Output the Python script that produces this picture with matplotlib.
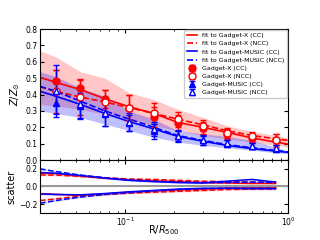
import numpy as np
import matplotlib
matplotlib.use("Agg")
import matplotlib.pyplot as plt

# radial bins (R/R500)
r_pts = [0.0375, 0.053, 0.075, 0.106, 0.15, 0.21, 0.30, 0.42, 0.60, 0.84]

# Gadget-X
gx_cc = [0.485, 0.44, 0.375, 0.32, 0.265, 0.225, 0.195, 0.16, 0.135, 0.12]
gx_cc_err = [0.065, 0.05, 0.055, 0.075, 0.06, 0.05, 0.035, 0.03, 0.025, 0.04]
gx_ncc = [0.42, 0.385, 0.355, 0.32, 0.285, 0.25, 0.21, 0.165, 0.145, 0.125]
gx_ncc_err = [0.13, 0.11, 0.075, 0.08, 0.065, 0.045, 0.035, 0.03, 0.025, 0.035]

# Gadget-MUSIC
gm_cc = [0.35, 0.33, 0.28, 0.225, 0.175, 0.145, 0.12, 0.10, 0.085, 0.07]
gm_cc_err = [0.07, 0.08, 0.07, 0.05, 0.045, 0.035, 0.03, 0.02, 0.02, 0.02]
gm_ncc = [0.42, 0.345, 0.29, 0.235, 0.19, 0.15, 0.125, 0.105, 0.085, 0.075]
gm_ncc_err = [0.16, 0.09, 0.08, 0.055, 0.045, 0.035, 0.03, 0.02, 0.02, 0.02]

# fits
r_fit = [0.03, 0.0375, 0.053, 0.075, 0.106, 0.15, 0.21, 0.30, 0.42, 0.60, 0.84, 1.0]
fit_gx_cc = [0.505, 0.475, 0.43, 0.375, 0.325, 0.285, 0.23, 0.20, 0.17, 0.135, 0.11, 0.097]
fit_gx_ncc = [0.448, 0.42, 0.385, 0.355, 0.32, 0.285, 0.25, 0.215, 0.18, 0.15, 0.13, 0.12]
fit_gm_cc = [0.42, 0.39, 0.34, 0.285, 0.235, 0.19, 0.145, 0.115, 0.09, 0.07, 0.055, 0.047]
fit_gm_ncc = [0.45, 0.42, 0.36, 0.30, 0.25, 0.20, 0.15, 0.12, 0.095, 0.075, 0.058, 0.05]

# shaded bands
gx_band_hi = [0.667, 0.63, 0.54, 0.50, 0.41, 0.37, 0.31, 0.26, 0.21, 0.175, 0.15, 0.135]
gx_band_lo = [0.34, 0.33, 0.31, 0.28, 0.25, 0.21, 0.18, 0.15, 0.13, 0.11, 0.09, 0.08]
gm_band_hi = [0.54, 0.51, 0.44, 0.39, 0.30, 0.25, 0.18, 0.16, 0.145, 0.12, 0.08, 0.055]
gm_band_lo = [0.30, 0.285, 0.26, 0.22, 0.18, 0.14, 0.11, 0.09, 0.075, 0.06, 0.045, 0.04]

# scatter panel
r_sc = [0.03, 0.0375, 0.053, 0.075, 0.106, 0.15, 0.21, 0.30, 0.42, 0.60, 0.84]
sc_gx_cc_hi = [0.15, 0.148, 0.12, 0.095, 0.075, 0.065, 0.055, 0.045, 0.04, 0.035, 0.035]
sc_gx_ncc_hi = [0.13, 0.13, 0.115, 0.10, 0.085, 0.08, 0.07, 0.06, 0.055, 0.05, 0.045]
sc_gm_cc_hi = [0.16, 0.15, 0.125, 0.095, 0.07, 0.055, 0.045, 0.04, 0.06, 0.08, 0.05]
sc_gm_ncc_hi = [0.2, 0.17, 0.13, 0.10, 0.075, 0.06, 0.05, 0.045, 0.045, 0.05, 0.045]
sc_gx_cc_lo = [-0.08, -0.09, -0.1, -0.085, -0.065, -0.05, -0.04, -0.03, -0.02, -0.015, -0.015]
sc_gx_ncc_lo = [-0.16, -0.14, -0.11, -0.09, -0.075, -0.065, -0.055, -0.045, -0.035, -0.03, -0.03]
sc_gm_cc_lo = [-0.085, -0.09, -0.095, -0.08, -0.06, -0.045, -0.03, -0.02, -0.02, -0.025, -0.025]
sc_gm_ncc_lo = [-0.19, -0.16, -0.12, -0.09, -0.07, -0.05, -0.035, -0.025, -0.02, -0.02, -0.02]

fig = plt.figure(figsize=(3.2, 2.4), dpi=100)
ax = fig.add_axes([0.125, 0.333, 0.775, 0.546])
ax2 = fig.add_axes([0.125, 0.113, 0.775, 0.22], sharex=ax)

ax.fill_between(r_fit, gx_band_lo, gx_band_hi, color="red", alpha=0.22, lw=0)
ax.fill_between(r_fit, gm_band_lo, gm_band_hi, color="blue", alpha=0.25, lw=0)

ax.plot(r_fit, fit_gx_cc, "r-", lw=1.2, label="fit to Gadget-X (CC)")
ax.plot(r_fit, fit_gx_ncc, "r--", lw=1.2, label="fit to Gadget-X (NCC)")
ax.plot(r_fit, fit_gm_cc, "b-", lw=1.2, label="fit to Gadget-MUSIC (CC)")
ax.plot(r_fit, fit_gm_ncc, "b--", lw=1.2, label="fit to Gadget-MUSIC (NCC)")

ekw = dict(capsize=2.5, elinewidth=1, capthick=1, ms=5, ls="none")
ax.errorbar(r_pts, gx_cc, yerr=gx_cc_err, fmt="o", color="red", label="Gadget-X (CC)", **ekw)
ax.errorbar(r_pts, gx_ncc, yerr=gx_ncc_err, fmt="o", color="red", mfc="white",
            label="Gadget-X (NCC)", **ekw)
ax.errorbar(r_pts, gm_cc, yerr=gm_cc_err, fmt="^", color="blue", label="Gadget-MUSIC (CC)", **ekw)
ax.errorbar(r_pts, gm_ncc, yerr=gm_ncc_err, fmt="^", color="blue", mfc="white",
            label="Gadget-MUSIC (NCC)", **ekw)

ax.set_xscale("log")
ax.set_xlim(0.03, 1.0)
ax.set_ylim(0.0, 0.8)
ax.set_yticks([0.0, 0.1, 0.2, 0.3, 0.4, 0.5, 0.6, 0.7, 0.8])
ax.set_ylabel(r"$Z/Z_{\odot}$", fontsize=7, labelpad=2)
ax.tick_params(labelbottom=False)
ax.legend(loc="upper right", fontsize=4.5, labelspacing=0.45, handlelength=1.6,
          handletextpad=0.8, borderpad=0.4, framealpha=1, edgecolor="0.8",
          borderaxespad=0.2)

# scatter
ax2.axhline(0, color="0.6", lw=1.5)
for hi, lo, c, ls in [(sc_gx_cc_hi, sc_gx_cc_lo, "red", "-"),
                      (sc_gx_ncc_hi, sc_gx_ncc_lo, "red", "--"),
                      (sc_gm_cc_hi, sc_gm_cc_lo, "blue", "-"),
                      (sc_gm_ncc_hi, sc_gm_ncc_lo, "blue", "--")]:
    for s in (hi, lo):
        s = np.array(s)
        ax2.fill_between(r_sc, s - 0.01, s + 0.01, color=c, alpha=0.15, lw=0)
        ax2.plot(r_sc, s, color=c, ls=ls, lw=1.1)
ax2.set_ylim(-0.3, 0.3)
ax2.set_yticks([-0.2, 0.0, 0.2])
ax2.set_ylabel("scatter", fontsize=7, labelpad=2)
ax2.set_xlabel(r"R/$R_{500}$", fontsize=7)
ax2.xaxis.set_label_coords(0.5, -0.2)

for a in (ax, ax2):
    a.tick_params(which="both", direction="in", top=True, right=True, labelsize=5.5, pad=2)
    a.tick_params(which="major", length=3)
    a.tick_params(which="minor", length=1.5)

fig.savefig("out.png", dpi=100)
